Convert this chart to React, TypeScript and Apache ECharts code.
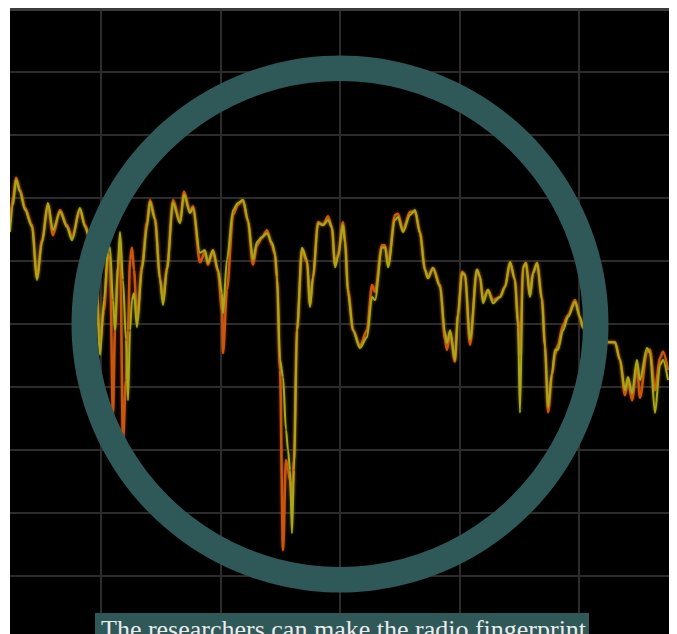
import React, { useEffect, useRef } from "react";
import * as echarts from "echarts";

// Frequency (MHz offset within span) of each sample
const freqs = [
  2.38, 2.64, 2.89, 3.22, 3.64, 4.23, 4.64, 5.06, 5.56, 5.98, 6.57, 7.15, 7.57, 8.24, 8.66, 9.08, 9.5,
  9.92, 10.25, 10.59, 10.75, 11.0, 11.17, 11.42, 11.59, 11.84, 12.09, 12.26, 12.43, 12.59, 12.76, 13.01,
  13.43, 13.85, 14.1, 14.52, 14.94, 15.19, 15.52, 16.03, 16.61, 16.95, 17.45, 17.7, 18.28, 18.7, 18.95,
  19.37, 19.79, 20.13, 20.21, 20.54, 21.05, 21.46, 21.88, 22.3, 22.72, 23.05, 23.47, 23.89, 24.31, 24.56,
  24.73, 24.98, 25.23, 25.48, 25.65, 25.82, 25.98, 26.15, 26.4, 26.82, 27.24, 27.49, 27.74, 28.16, 28.58,
  29.0, 29.33, 29.58, 29.83, 30.25, 30.42, 30.67, 31.09, 31.67, 32.26, 32.68, 32.93, 33.51, 33.77, 34.02,
  34.6, 34.85, 35.27, 35.86, 36.28, 36.69, 37.11, 37.36, 37.78, 38.37, 38.79, 38.95, 39.21, 39.62, 39.87,
  40.21, 40.46, 40.88, 41.46, 41.72, 41.97, 42.38, 42.8, 43.39, 43.81, 44.23, 44.64, 44.9, 45.06, 45.31,
  45.56, 45.9, 46.15, 46.49, 46.9, 47.15, 47.41, 47.74, 47.99, 48.24, 48.66, 49.08, 49.67, 50.08, 50.33,
  51.34, 52.59, 53.01, 53.43, 53.85, 54.1, 54.44, 54.85, 55.1, 55.69, 55.94, 56.36, 56.78, 57.03, 57.45,
];

// Live trace (yellow), dB
const traceYellow = [
  -35.4, -31.1, -27.1, -29.0, -31.9, -34.6, -43.0, -37.1, -30.8, -35.1, -32.2, -34.6, -36.7, -31.6, -34.6, -36.7, -38.3,
  -54.9, -46.2, -38.3, -37.8, -46.2, -51.0, -40.6, -35.4, -43.0, -52.5, -62.1, -51.0, -46.2, -45.1, -50.5,
  -41.4, -34.6, -30.6, -33.5, -43.0, -47.0, -41.4, -30.8, -34.0, -29.5, -32.4, -31.6, -38.7, -38.3, -40.3,
  -38.3, -41.4, -45.1, -48.3, -39.8, -31.9, -30.8, -30.3, -33.5, -39.8, -37.0, -36.2, -35.6, -37.1, -38.7,
  -42.5, -55.7, -58.4, -66.8, -70.0, -73.2, -83.2, -73.2, -51.0, -37.9, -39.8, -47.3, -42.5, -34.0, -34.3,
  -33.5, -34.6, -41.0, -39.4, -34.3, -37.1, -45.1, -51.0, -53.8, -52.1, -45.7, -46.2, -37.9, -37.8, -41.0,
  -33.5, -33.0, -35.4, -32.7, -31.9, -35.6, -41.4, -42.7, -41.1, -44.1, -51.4, -53.0, -51.0, -55.7, -48.3,
  -41.9, -42.2, -52.5, -41.4, -42.5, -46.7, -44.6, -46.7, -45.7, -44.1, -40.2, -43.0, -50.5, -64.1, -41.0,
  -40.3, -45.7, -41.9, -40.3, -46.2, -53.7, -63.2, -57.8, -54.1, -54.1, -51.0, -48.9, -46.5, -48.9, -50.5,
  -52.5, -52.9, -52.9, -55.7, -60.5, -58.4, -61.0, -55.7, -58.9, -53.8, -54.6, -64.1, -56.5, -55.7, -58.9,
];

// Reference / max-hold trace (orange), dB
const traceOrange = [
  -33.8, -30.0, -26.8, -28.7, -31.6, -34.3, -42.7, -36.7, -31.1, -35.9, -31.9, -34.3, -36.3, -31.9, -34.3, -36.3, -38.3,
  -52.5, -47.8, -39.0, -39.8, -64.4, -51.0, -41.0, -36.7, -68.4, -58.9, -51.0, -39.8, -37.9, -41.4, -49.4,
  -40.6, -33.8, -30.3, -33.2, -42.7, -46.2, -41.1, -30.3, -33.8, -29.0, -32.2, -31.3, -40.2, -38.6, -40.6,
  -38.3, -41.7, -47.8, -54.6, -44.6, -32.7, -31.1, -30.3, -33.8, -40.6, -37.5, -36.3, -35.1, -37.5, -39.0,
  -43.0, -57.3, -85.9, -71.6, -73.2, -74.8, -77.9, -71.6, -51.0, -38.3, -40.2, -47.0, -42.7, -33.8, -34.3,
  -32.9, -34.8, -40.6, -39.0, -33.8, -36.7, -44.6, -51.0, -53.5, -51.0, -43.8, -44.9, -37.5, -37.5, -40.6,
  -32.7, -32.5, -35.1, -32.2, -32.2, -35.4, -41.4, -42.7, -41.1, -43.8, -52.5, -54.1, -51.3, -56.0, -48.6,
  -41.7, -42.2, -53.3, -41.4, -42.5, -46.2, -44.6, -46.2, -45.7, -44.1, -40.2, -43.0, -49.4, -54.9, -41.1,
  -40.3, -45.4, -41.9, -40.3, -45.9, -53.3, -64.0, -58.1, -54.9, -53.3, -50.2, -48.6, -46.2, -49.0, -50.6,
  -52.5, -52.9, -52.9, -55.7, -61.3, -58.9, -62.1, -56.5, -61.7, -54.4, -54.1, -60.5, -55.4, -54.4, -57.3,
];

const freqMin = 0;
const freqMax = 60;
const freqStep = 10;
const dbMin = -100;
const dbMax = 0;
const dbStep = 10;

const caption = "The researchers can make the radio fingerprint";

export default function App() {
  const ref = useRef<HTMLDivElement>(null);

  useEffect(() => {
    if (!ref.current) return;
    const chart = echarts.init(ref.current, null, { renderer: "svg" });
    const yellowData = freqs.map((f, i) => [f, traceYellow[i]]);
    const orangeData = freqs.map((f, i) => [f, traceOrange[i]]);
    chart.setOption({
      animation: false,
      backgroundColor: "#000000",
      grid: {
        left: -28.5,
        right: -29.5,
        top: -2,
        bottom: -5,
        containLabel: false,
        outerBoundsMode: "none",
      },
      xAxis: {
        type: "value",
        min: freqMin,
        max: freqMax,
        interval: freqStep,
        axisLine: { show: false },
        axisTick: { show: false },
        axisLabel: { show: false },
        splitLine: { show: true, lineStyle: { color: "#2c2c2c", width: 2 } },
      },
      yAxis: {
        type: "value",
        min: dbMin,
        max: dbMax,
        interval: dbStep,
        axisLine: { show: false },
        axisTick: { show: false },
        axisLabel: { show: false },
        splitLine: { show: true, lineStyle: { color: "#2c2c2c", width: 2 } },
      },
      series: [
        {
          type: "line",
          data: orangeData,
          showSymbol: false,
          smooth: 0.3,
          smoothMonotone: "x",
          lineStyle: { color: "#c9560c", width: 2.5, shadowBlur: 3, shadowColor: "rgba(200,80,10,0.6)" },
          z: 2,
        },
        {
          type: "line",
          data: yellowData,
          showSymbol: false,
          smooth: 0.3,
          smoothMonotone: "x",
          lineStyle: { color: "#a9a71b", width: 2, shadowBlur: 3, shadowColor: "rgba(170,170,20,0.6)" },
          z: 3,
        },
      ],
      graphic: [
        {
          type: "ring",
          shape: { cx: 330, cy: 313, r: 268.5, r0: 243 },
          style: { fill: "#2f5859" },
          z: 10,
        },
        {
          type: "rect",
          shape: { x: 85, y: 602, width: 494, height: 40 },
          style: { fill: "#2f5859" },
          z: 10,
        },
        {
          type: "text",
          x: 91,
          y: 618,
          style: {
            text: caption,
            fill: "#ececec",
            font: "26px 'Liberation Serif', serif",
            verticalAlign: "middle",
            align: "left",
          },
          z: 11,
        },
      ],
    });
    return () => chart.dispose();
  }, []);

  return (
    <div style={{ position: "fixed", left: 0, top: 0, width: 677, height: 634, background: "#ffffff", overflow: "hidden" }}>
      <div style={{ position: "absolute", left: 10, top: 8, width: 659, height: 3, background: "#3c3c3c" }} />
      <div
        ref={ref}
        style={{ position: "absolute", left: 10, top: 11, width: 659, height: 623, background: "#000000", overflow: "hidden" }}
      />
    </div>
  );
}
